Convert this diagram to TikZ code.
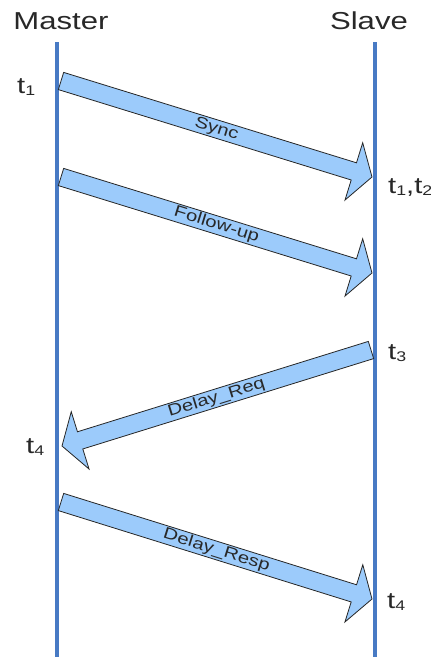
\documentclass[tikz,border=0pt]{standalone}
\usepackage{fontspec}
\setmainfont{Liberation Sans}
\newfontfamily\lblfont[FakeStretch=1.27]{Liberation Sans}
\usetikzlibrary{calc}
\definecolor{lifeblue}{RGB}{72,122,196}
\definecolor{msgfill}{RGB}{156,203,251}
\definecolor{txtgray}{RGB}{40,40,40}
\tikzset{
  lifeline/.style={draw=lifeblue, line width=4pt},
  msgarrow/.style={draw=black!85, fill=msgfill, line width=0.8pt, line join=miter},
  msglabel/.style={font=\lblfont\fontsize{16}{16}\selectfont, text=txtgray, inner sep=0pt},
  actor/.style={font=\lblfont\fontsize{24.5}{24.5}\selectfont, text=txtgray, inner sep=0pt},
  stamp/.style={font=\lblfont\fontsize{23}{23}\selectfont, text=txtgray, inner sep=0pt},
}
\newcommand\tsub[1]{t\raisebox{-2pt}{\fontsize{14}{14}\selectfont #1}}
% #1 tail coordinate, #2 tip coordinate, #3 label, #4 label node name
\newcommand\fatarrow[4]{%
  \coordinate (#1h) at ($(#2)!19pt!(#1)$);
  \draw[msgarrow] ($(#1)!9pt!90:(#2)$) -- ($(#1h)!9pt!90:(#2)$) -- ($(#1h)!30pt!90:(#2)$)
     -- (#2) -- ($(#1h)!30pt!-90:(#2)$) -- ($(#1h)!9pt!-90:(#2)$) -- ($(#1)!9pt!-90:(#2)$) -- cycle;
  \path (#1) -- (#2) node[midway, sloped, msglabel] (#4) {#3};
}
\begin{document}
\begin{tikzpicture}[x=1pt, y=-1pt]
  \useasboundingbox (0,0) rectangle (431,662);
  % lifelines
  \coordinate (mtop) at (57,42);
  \coordinate (mbot) at (57,657);
  \coordinate (stop) at (375,42);
  \coordinate (sbot) at (375,657);
  \draw[lifeline] (mtop) -- (mbot);
  \draw[lifeline] (stop) -- (sbot);
  % actors
  \node[actor] (master) at (61,21) {Master};
  \node[actor] (slave) at (369,21) {Slave};
  % messages
  \coordinate (a1) at (61,81);   \coordinate (b1) at (372,177);
  \coordinate (a2) at (61,177);  \coordinate (b2) at (372,273);
  \coordinate (a3) at (371,350); \coordinate (b3) at (62,446);
  \coordinate (a4) at (61,502);  \coordinate (b4) at (372,599);
  \fatarrow{a1}{b1}{Sync}{lsync}
  \fatarrow{a2}{b2}{Follow-up}{lfollow}
  \fatarrow{a3}{b3}{Delay\_Req}{lreq}
  \fatarrow{a4}{b4}{Delay\_Resp}{lresp}
  % timestamps
  \node[stamp, anchor=base west] (t1) at (17,93) {\tsub{1}};
  \node[stamp, anchor=base west] (t12) at (388,193) {\tsub{1},\tsub{2}};
  \node[stamp, anchor=base west] (t3) at (388,359) {\tsub{3}};
  \node[stamp, anchor=base west] (t4m) at (26,453) {\tsub{4}};
  \node[stamp, anchor=base west] (t4s) at (387,608) {\tsub{4}};
\end{tikzpicture}
\end{document}
